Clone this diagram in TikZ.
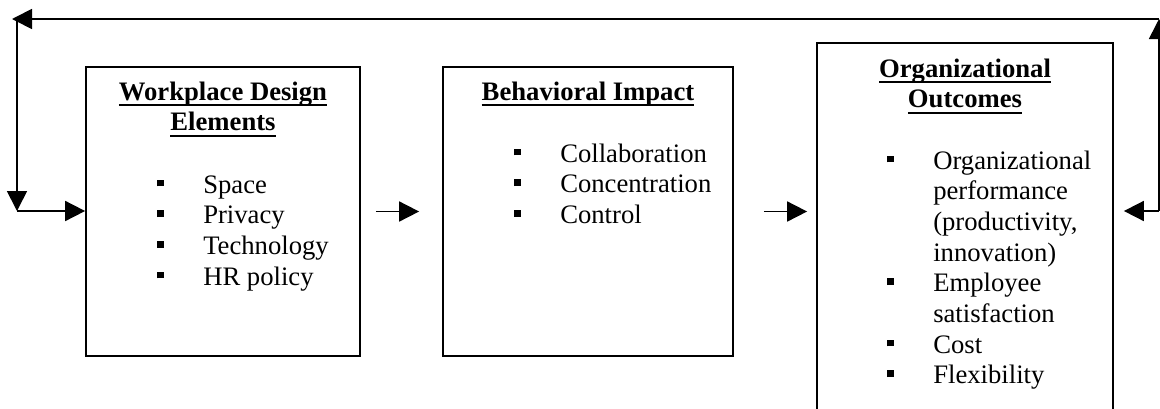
\documentclass[tikz,border=0pt]{standalone}
\usepackage{fontspec}
\setmainfont{Liberation Serif}
\usetikzlibrary{arrows.meta}

% small filled square used as list bullet
\newcommand{\sqbul}{\rule[5pt]{5pt}{5pt}}
% bulleted item and continuation line
\newcommand{\itm}[1]{\makebox[34.5pt][l]{\sqbul}#1}
\newcommand{\cnt}[1]{\hspace*{34.5pt}#1}
% underlined heading line
\newsavebox{\hdbox}
\newcommand{\hd}[1]{\leavevmode\sbox{\hdbox}{#1}\rlap{\rule[-4.5pt]{\wd\hdbox}{1.2pt}}\usebox{\hdbox}}

\begin{document}
\begin{tikzpicture}[x=0.75pt,y=-0.75pt,
  every node/.style={font=\fontsize{20}{23}\selectfont, inner sep=0pt},
  box/.style={draw, line width=1.3pt},
  title/.style={anchor=base, font=\fontsize{20}{23}\selectfont\bfseries},
  items/.style={anchor=base west},
  arr/.style={line width=1.3pt, -{Triangle[length=15pt,width=15pt]}}]

\useasboundingbox (0,0) rectangle (1160,408);
\clip (0,0) rectangle (1160,408);

% the three boxes
\node[box, minimum width=205.5pt, minimum height=216.75pt] (b1) at (223,211.5) {};
\node[box, minimum width=217.5pt, minimum height=216.75pt] (b2) at (588,211.5) {};
\node[box, minimum width=222pt, minimum height=297.75pt] (b3) at (965,241.5) {};

% headings
\node[title] (t1) at (223,100) {\parbox[t]{200pt}{\centering\hd{Workplace Design}\\\hd{Elements}}};
\node[title] (t2) at (588,100) {\parbox[t]{210pt}{\centering\hd{Behavioral Impact}}};
\node[title] (t3) at (965,77) {\parbox[t]{215pt}{\centering\hd{Organizational}\\\hd{Outcomes}}};

% bullet lists
\node[items] (l1) at (157,193) {\parbox[t]{190pt}{\itm{Space}\\\itm{Privacy}\\\itm{Technology}\\\itm{HR policy}}};
\node[items] (l2) at (514,162) {\parbox[t]{210pt}{\itm{Collaboration}\\\itm{Concentration}\\\itm{Control}}};
\node[items] (l3) at (887,169) {\parbox[t]{215pt}{\itm{Organizational}\\\cnt{performance}\\\cnt{(productivity,}\\\cnt{innovation)}\\\itm{Employee}\\\cnt{satisfaction}\\\itm{Cost}\\\itm{Flexibility}}};

% feedback loop corners
\coordinate (ne) at (1159,19);
\coordinate (se) at (1159,211);
\coordinate (nw) at (17,19);
\coordinate (nwtip) at (12,19);
\coordinate (sw) at (17,211);

% forward arrows between boxes
\draw[arr, shorten <=11.25pt, shorten >=17.25pt] (b1.east) -- (b2.west);
\draw[arr, shorten <=22.5pt, shorten >=6.75pt] (b2.east) -- (b2.east -| b3.west);

% feedback loop
\draw[arr, shorten >=7.5pt] (se) -- (se -| b3.east);
\draw[arr] (se) -- (ne);
\draw[arr] (ne) -- (nwtip);
\draw[arr] (nw) -- (sw);
\draw[arr] (sw) -- (sw -| b1.west);
\end{tikzpicture}
\end{document}
